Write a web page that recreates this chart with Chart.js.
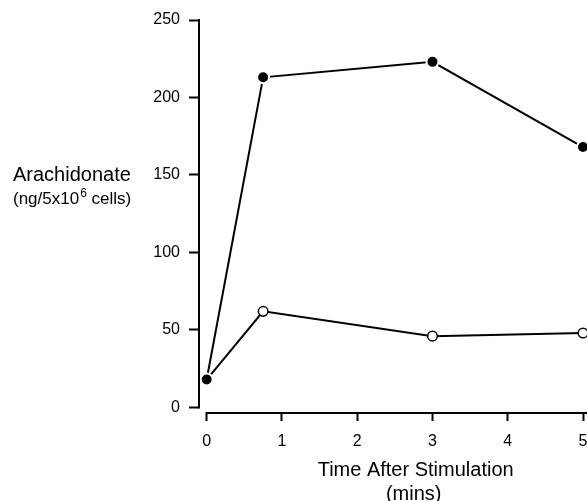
<!DOCTYPE html>
<html>
<head>
<meta charset="utf-8">
<script src="https://cdn.jsdelivr.net/npm/chart.js@4"></script>
<style>
  html, body { margin: 0; padding: 0; background: #fff; }
  #grafica { display: block; }
</style>
</head>
<body>
<canvas id="grafica" width="587" height="501"></canvas>
<script>
const tiempos = [0, 0.75, 3, 5];
const estimulado = [18, 213, 223, 168];
const control = [18, 62, 46, 48];
const ticksX = [0, 1, 2, 3, 4, 5];
const ticksY = [0, 50, 100, 150, 200, 250];

const fuente = "'Liberation Sans', Arial, Helvetica, sans-serif";

function puntos(valores) {
  return tiempos.map((t, i) => ({ x: t, y: valores[i] }));
}

// ejes separados (estilo de la figura) y titulos de los ejes
const ejes = {
  id: 'ejes',
  afterDraw(chart) {
    const { ctx, chartArea } = chart;
    const x = chart.scales.x, y = chart.scales.y;
    ctx.save();
    ctx.strokeStyle = '#000';
    ctx.lineWidth = 2;
    ctx.beginPath();
    ctx.moveTo(chartArea.left, y.getPixelForValue(ticksY[ticksY.length - 1]) - 1);
    ctx.lineTo(chartArea.left, y.getPixelForValue(0) + 1);
    ctx.moveTo(x.getPixelForValue(0) - 1, chartArea.bottom);
    ctx.lineTo(chart.width, chartArea.bottom);
    ctx.stroke();

    ctx.fillStyle = '#000';
    ctx.textBaseline = 'alphabetic';
    ctx.textAlign = 'left';
    ctx.font = '20px ' + fuente;
    ctx.fillText('Arachidonate', 13, 181);
    ctx.font = '17px ' + fuente;
    let px = 13;
    ctx.fillText('(ng/5x10', px, 204);
    px += ctx.measureText('(ng/5x10').width + 1;
    ctx.font = '12px ' + fuente;
    ctx.fillText('6', px, 197);
    px += ctx.measureText('6').width;
    ctx.font = '17px ' + fuente;
    ctx.fillText(' cells)', px, 204);

    ctx.textAlign = 'center';
    ctx.font = '20px ' + fuente;
    const cx = x.getPixelForValue(2.75);
    ctx.fillText('Time After Stimulation', cx + 2, 476);
    ctx.fillText('(mins)', cx, 500);
    ctx.restore();
  }
};

const ctx = document.getElementById('grafica').getContext('2d');
new Chart(ctx, {
  type: 'line',
  data: {
    datasets: [
      {
        label: 'Estimulado',
        data: puntos(estimulado),
        borderColor: '#000',
        borderWidth: 2,
        pointRadius: 6,
        pointBackgroundColor: '#000',
        pointBorderColor: '#fff',
        pointBorderWidth: 2,
        tension: 0,
        clip: false
      },
      {
        label: 'Control',
        data: puntos(control),
        borderColor: '#000',
        borderWidth: 2,
        pointRadius: 4.8,
        pointBackgroundColor: '#fff',
        pointBorderColor: '#000',
        pointBorderWidth: 1.5,
        tension: 0,
        clip: false
      }
    ]
  },
  options: {
    responsive: false,
    animation: false,
    devicePixelRatio: 1,
    layout: { autoPadding: false, padding: { top: 20, right: 4, left: 0, bottom: 0 } },
    plugins: {
      legend: { display: false },
      tooltip: { enabled: false }
    },
    scales: {
      x: {
        type: 'linear',
        min: -0.102,
        max: 5,
        afterBuildTicks: s => { s.ticks = ticksX.map(v => ({ value: v })); },
        afterFit: s => { s.height = 88; s.paddingLeft = 0; s.paddingRight = 0; },
        border: { display: false },
        grid: { drawOnChartArea: false, drawTicks: true, tickLength: 8, tickWidth: 2, color: '#000' },
        ticks: {
          color: '#000',
          font: { family: fuente, size: 16 },
          padding: 11,
          maxRotation: 0,
          autoSkip: false
        }
      },
      y: {
        type: 'linear',
        min: -3.6,
        max: 250,
        afterBuildTicks: s => { s.ticks = ticksY.map(v => ({ value: v })); },
        afterFit: s => { s.width = 199; },
        border: { display: false },
        grid: { drawOnChartArea: false, drawTicks: true, tickLength: 10, tickWidth: 2, color: '#000' },
        ticks: {
          color: '#000',
          font: { family: fuente, size: 16 },
          padding: 9,
          autoSkip: false
        }
      }
    }
  },
  plugins: [ejes]
});
</script>
</body>
</html>
